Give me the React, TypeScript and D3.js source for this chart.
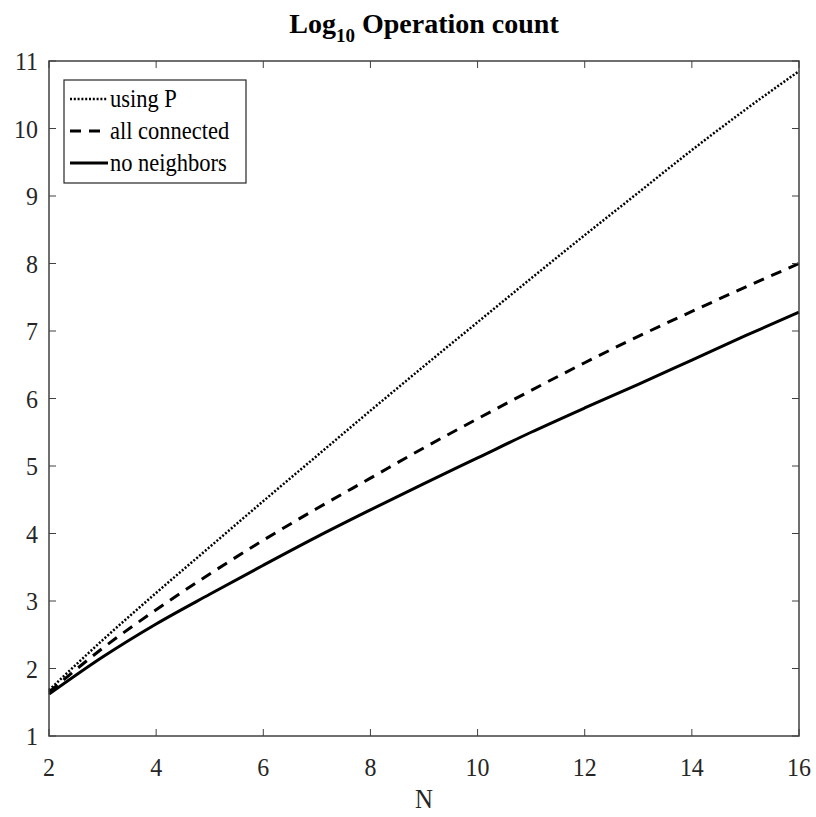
import React from "react";
import * as d3 from "d3";

// N values and log10 op counts
const nValues = [2, 3, 4, 5, 6, 7, 8, 9, 10, 11, 12, 13, 14, 15, 16];
const usingP = [1.68, 2.42, 3.12, 3.8, 4.48, 5.15, 5.82, 6.48, 7.13, 7.78, 8.42, 9.05, 9.68, 10.28, 10.85];
const allConnected = [1.65, 2.3, 2.87, 3.4, 3.9, 4.37, 4.82, 5.27, 5.7, 6.12, 6.53, 6.92, 7.29, 7.65, 8.0];
const noNeighbors = [1.62, 2.17, 2.66, 3.1, 3.53, 3.95, 4.35, 4.74, 5.12, 5.5, 5.86, 6.21, 6.57, 6.93, 7.28];

const xTicks = [2, 4, 6, 8, 10, 12, 14, 16];
const yTicks = [1, 2, 3, 4, 5, 6, 7, 8, 9, 10, 11];

const seriesNames = ["using P", "all connected", "no neighbors"];

const W = 816;
const H = 817;
const margin = { top: 61, right: 17, bottom: 81, left: 49 };
const font = "'Liberation Serif', 'Times New Roman', serif";

const styles = [
  { width: 2.5, dash: "2,1.8" },
  { width: 3, dash: "11,8" },
  { width: 3, dash: null },
];

// squished text, like the original export
const SText = ({ x, y, anchor = "middle", size = 26, sx = 0.92, fill = "#262626", children, weight = "normal" }: any) => (
  <text
    transform={`translate(${x},${y}) scale(${sx},1)`}
    textAnchor={anchor}
    fontSize={size}
    fontFamily={font}
    fontWeight={weight}
    fill={fill}
  >
    {children}
  </text>
);

const App = () => {
  const x = d3.scaleLinear().domain([2, 16]).range([margin.left, W - margin.right]);
  const y = d3.scaleLinear().domain([1, 11]).range([H - margin.bottom, margin.top]);

  const line = d3
    .line<number>()
    .x((_, i) => x(nValues[i]))
    .y((d) => y(d))
    .curve(d3.curveMonotoneX);

  const allSeries = [usingP, allConnected, noNeighbors];
  const axisColor = "#404040";
  const tickLen = 7;
  const [x0, x1] = x.range();
  const [y0, y1] = y.range();

  return (
    <svg width={W} height={H} style={{ position: "absolute", left: 0, top: 0, background: "#fff" }}>
      {/* title */}
      <text x={424} y={33} textAnchor="middle" fontFamily={font} fontWeight="bold" fontSize={28} fill="#000">
        Log<tspan fontSize={19} dy={9}>10</tspan>
        <tspan dy={-9}> Operation count</tspan>
      </text>

      {/* data lines */}
      {allSeries.map((s, i) => (
        <path
          key={seriesNames[i]}
          d={line(s) || ""}
          fill="none"
          stroke="#000"
          strokeWidth={styles[i].width}
          strokeDasharray={styles[i].dash || undefined}
        />
      ))}

      {/* box */}
      <rect x={x0} y={y1} width={x1 - x0} height={y0 - y1} fill="none" stroke={axisColor} strokeWidth={1.5} />

      {/* x ticks */}
      {xTicks.map((t) => (
        <g key={"x" + t}>
          <line x1={x(t)} x2={x(t)} y1={y0} y2={y0 - tickLen} stroke={axisColor} />
          <line x1={x(t)} x2={x(t)} y1={y1} y2={y1 + tickLen} stroke={axisColor} />
          <SText x={x(t)} y={y0 + 40}>{t}</SText>
        </g>
      ))}

      {/* y ticks */}
      {yTicks.map((t) => (
        <g key={"y" + t}>
          <line x1={x0} x2={x0 + tickLen} y1={y(t)} y2={y(t)} stroke={axisColor} />
          <line x1={x1} x2={x1 - tickLen} y1={y(t)} y2={y(t)} stroke={axisColor} />
          <SText x={x0 - 11} y={y(t) + 9} anchor="end">{t}</SText>
        </g>
      ))}

      <SText x={(x0 + x1) / 2} y={H - 9} size={27}>N</SText>

      {/* legend */}
      <g>
        <rect x={64} y={80} width={182} height={103} fill="#fff" stroke="#262626" strokeWidth={1.2} />
        {seriesNames.map((name, i) => {
          const cy = 99 + i * 32;
          return (
            <g key={name}>
              <line
                x1={70}
                x2={108}
                y1={cy}
                y2={cy}
                stroke="#000"
                strokeWidth={styles[i].width}
                strokeDasharray={styles[i].dash || undefined}
              />
              <SText x={110} y={cy + 8} anchor="start" size={25} sx={0.9} fill="#000">
                {name}
              </SText>
            </g>
          );
        })}
      </g>
    </svg>
  );
};

export default App;
